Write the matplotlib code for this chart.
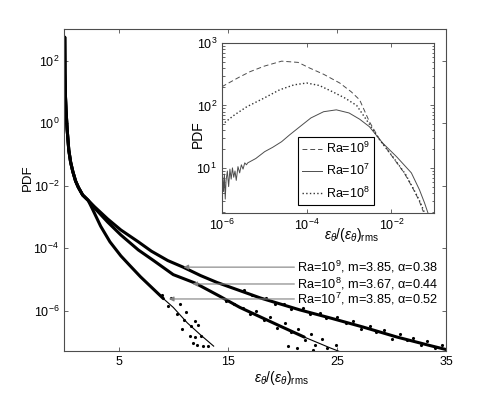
import numpy as np
import matplotlib
matplotlib.use('Agg')
import matplotlib.pyplot as plt
from matplotlib.ticker import LogLocator, NullLocator, NullFormatter

plt.rcParams['font.family'] = ['Liberation Sans', 'DejaVu Sans']
plt.rcParams['mathtext.fontset'] = 'custom'
plt.rcParams['mathtext.rm'] = 'Liberation Sans'
plt.rcParams['mathtext.it'] = 'Liberation Sans:italic'
plt.rcParams['font.size'] = 9

# ---- main panel: PDF tails (x, log10 PDF) ----
common_x = [0.06, 0.08, 0.12, 0.18, 0.28, 0.43, 0.6, 0.8, 1.05, 1.3, 1.7, 2.2]
common_logy = [2.75, 1.6, 0.9, 0.4, -0.2, -0.86, -1.25, -1.55, -1.85, -2.05, -2.3, -2.47]

ra7_x = [2.6, 3.35, 4.2, 5.2, 6.0, 7.0, 8.2, 9.1, 10.0, 11.3, 12.5, 13.7]
ra7_logy = [-2.75, -3.3, -3.8, -4.25, -4.55, -4.92, -5.32, -5.62, -5.9, -6.4, -6.78, -7.14]

ra8_x = [2.8, 4.0, 5.2, 6.8, 8.2, 10.0, 12.0, 14.3, 16.1, 19.8, 22.0, 24.4, 25.5]
ra8_logy = [-2.72, -3.17, -3.58, -4.06, -4.4, -4.85, -5.12, -5.55, -5.9, -6.5, -6.85, -7.2, -7.35]

ra9_x = [2.8, 4.0, 5.2, 6.8, 8.0, 9.5, 10.9, 12.5, 14.0, 15.2, 18.0, 21.6, 24.4, 27.4, 30.5, 33.5, 35.0]
ra9_logy = [-2.68, -3.07, -3.42, -3.8, -4.1, -4.4, -4.61, -4.88, -5.1, -5.25, -5.6, -5.98, -6.24,
            -6.53, -6.85, -7.12, -7.25]

# scattered samples in the sparse tails
dots9_x = [16.5, 17.2, 18.5, 19.3, 20.1, 20.8, 21.9, 22.5, 23.4, 24.0, 25.0, 25.8, 26.5, 27.2,
           28.0, 28.6, 29.3, 30.0, 30.8, 31.4, 32.0, 32.7, 33.2, 34.0, 34.6]
dots9_logy = [-5.35, -5.5, -5.6, -5.78, -5.8, -5.95, -5.92, -6.1, -6.08, -6.25, -6.22, -6.4, -6.35,
              -6.6, -6.5, -6.7, -6.62, -6.9, -6.75, -6.95, -6.88, -7.1, -6.98, -7.2, -7.1]
dots8_x = [14.8, 15.6, 16.4, 17.0, 17.6, 18.3, 18.9, 19.5, 20.2, 20.8, 21.4, 22.1, 22.6, 23.0,
           23.6, 24.1, 22.8, 21.3, 24.9, 20.5]
dots8_logy = [-5.7, -5.8, -5.92, -6.1, -6.0, -6.3, -6.2, -6.55, -6.4, -6.7, -6.6, -6.95, -6.75,
              -7.1, -6.9, -7.2, -7.25, -7.2, -7.1, -7.15]
dots7_x = [9.0, 9.5, 9.8, 10.3, 10.6, 11.0, 11.2, 11.6, 12.0, 12.3, 10.8, 11.5, 12.0, 12.5,
           11.8, 12.2, 12.7, 13.2]
dots7_logy = [-5.5, -5.85, -5.6, -6.1, -5.8, -6.3, -6.05, -6.5, -6.35, -6.45, -6.6, -6.8, -6.85,
              -6.8, -7.05, -7.1, -7.12, -7.12]

labels = ['Ra=10$^{9}$, m=3.85, α=0.38',
          'Ra=10$^{8}$, m=3.67, α=0.44',
          'Ra=10$^{7}$, m=3.85, α=0.52']
arrow_x = [10.94, 11.76, 9.6]
arrow_logy = [-4.61, -5.15, -5.63]

# ---- inset: small-dissipation range (log10 x, log10 PDF) ----
in9_logx = [-6.0, -5.6, -5.34, -5.0, -4.59, -4.2, -3.93, -3.6, -3.22, -2.95, -2.75, -2.52,
            -2.3, -2.0, -1.7, -1.5, -1.35, -1.25]
in9_logy = [2.30, 2.45, 2.54, 2.63, 2.71, 2.69, 2.60, 2.50, 2.36, 2.22, 2.09, 1.74,
            1.48, 1.2, 0.92, 0.68, 0.48, 0.3]
in8_logx = [-6.0, -5.7, -5.41, -5.0, -4.64, -4.3, -4.0, -3.7, -3.39, -3.1, -2.82, -2.52,
            -2.28, -1.97, -1.67, -1.47, -1.32, -1.22]
in8_logy = [1.69, 1.85, 1.98, 2.12, 2.25, 2.33, 2.36, 2.32, 2.22, 2.12, 2.0, 1.70,
            1.45, 1.18, 0.9, 0.65, 0.45, 0.28]
in7_logx = [-6.0, -5.98, -5.96, -5.94, -5.92, -5.9, -5.87, -5.84, -5.81, -5.78, -5.75, -5.72,
            -5.69, -5.66, -5.62, -5.58, -5.54, -5.5, -5.46, -5.42, -5.39, -5.2, -4.99, -4.8,
            -4.59, -4.4, -4.16, -3.9, -3.6, -3.3, -3.0, -2.75, -2.52, -2.21, -1.88, -1.53,
            -1.34, -1.22, -1.11]
in7_logy = [0.55, 0.85, 0.62, 0.9, 0.5, 0.8, 0.95, 0.7, 0.98, 0.82, 1.0, 0.85,
            0.95, 0.8, 1.02, 0.92, 1.05, 0.98, 1.08, 1.05, 1.08, 1.15, 1.26, 1.33,
            1.42, 1.53, 1.66, 1.8, 1.9, 1.93, 1.88, 1.78, 1.66, 1.4, 1.18, 0.92,
            0.65, 0.44, 0.22]

xlab = r'$\varepsilon_\theta/(\varepsilon_\theta)_{\rm rms}$'

fig = plt.figure(figsize=(4.93, 3.95), dpi=100)
ax = fig.add_axes([0.130, 0.111, 0.775, 0.816])

for cx, cy, n_thick in [(ra9_x, ra9_logy, 17), (ra8_x, ra8_logy, 11), (ra7_x, ra7_logy, 8)]:
    x = np.array(common_x + cx)
    y = 10.0 ** np.array(common_logy + cy)
    ax.plot(x, y, color='k', lw=0.8)
    k = len(common_x) + n_thick
    ax.plot(x[:k], y[:k], color='k', lw=2.2, solid_capstyle='round')

for dx, dy in [(dots9_x, dots9_logy), (dots8_x, dots8_logy), (dots7_x, dots7_logy)]:
    ax.plot(dx, 10.0 ** np.array(dy), 'k.', ms=2.5)

for lab, axx, ly in zip(labels, arrow_x, arrow_logy):
    ax.annotate(lab, xy=(axx, 10.0 ** ly), xytext=(21.35, 10.0 ** ly),
                ha='left', va='center', fontsize=9.2,
                arrowprops=dict(arrowstyle='-|>', color='0.5', lw=0.8,
                                shrinkA=0, shrinkB=0, mutation_scale=7))

ax.set_yscale('log')
ax.set_xlim(0, 35)
ax.set_ylim(5e-8, 1.05e3)
ax.set_xticks([5, 15, 25, 35])
ax.set_yticks([1e-6, 1e-4, 1e-2, 1e0, 1e2])
ax.yaxis.set_minor_locator(NullLocator())
ax.tick_params(direction='in', top=True, right=True, length=3, width=0.6, color='0.3')
for s in ax.spines.values():
    s.set_color('0.3')
    s.set_linewidth(0.8)
ax.set_xlabel(xlab, fontsize=10)
ax.xaxis.set_label_coords(0.57, -0.055)
ax.set_ylabel('PDF', fontsize=9.5)
ax.yaxis.set_label_coords(-0.08, 0.537)

# inset
ins = fig.add_axes([0.450, 0.461, 0.430, 0.430])
ins.plot(10.0 ** np.array(in9_logx), 10.0 ** np.array(in9_logy), '--', color='0.3', lw=0.7,
         dashes=(5, 3), label='Ra=10$^{9}$')
ins.plot(10.0 ** np.array(in7_logx), 10.0 ** np.array(in7_logy), '-', color='0.3', lw=0.7,
         label='Ra=10$^{7}$')
ins.plot(10.0 ** np.array(in8_logx), 10.0 ** np.array(in8_logy), ':', color='0.2', lw=1.0,
         label='Ra=10$^{8}$')
ins.set_xscale('log')
ins.set_yscale('log')
ins.set_xlim(1e-6, 1e-1)
ins.set_ylim(1.9, 1e3)
ins.set_xticks([1e-6, 1e-4, 1e-2])
ins.xaxis.set_minor_locator(NullLocator())
ins.set_yticks([1e1, 1e2, 1e3])
ins.yaxis.set_minor_locator(LogLocator(base=10, subs=np.arange(2, 10)))
ins.yaxis.set_minor_formatter(NullFormatter())
ins.tick_params(which='both', direction='in', top=True, right=True, width=0.6, color='0.3',
                labelsize=9)
ins.tick_params(which='major', length=3)
ins.tick_params(which='minor', length=1.8)
for s in ins.spines.values():
    s.set_color('0.3')
    s.set_linewidth(0.8)
ins.set_xlabel(xlab, fontsize=10)
ins.xaxis.set_label_coords(0.61, -0.08)
ins.set_ylabel('PDF', fontsize=10)
ins.yaxis.set_label_coords(-0.08, 0.465)
leg = ins.legend(loc='lower left', bbox_to_anchor=(0.358, 0.047), borderaxespad=0, fontsize=9,
                 handlelength=1.6, handletextpad=0.3, borderpad=0.35, labelspacing=0.55,
                 fancybox=False, framealpha=1)
leg.get_frame().set_edgecolor('k')
leg.get_frame().set_linewidth(0.8)

fig.savefig('out.png', dpi=100)
